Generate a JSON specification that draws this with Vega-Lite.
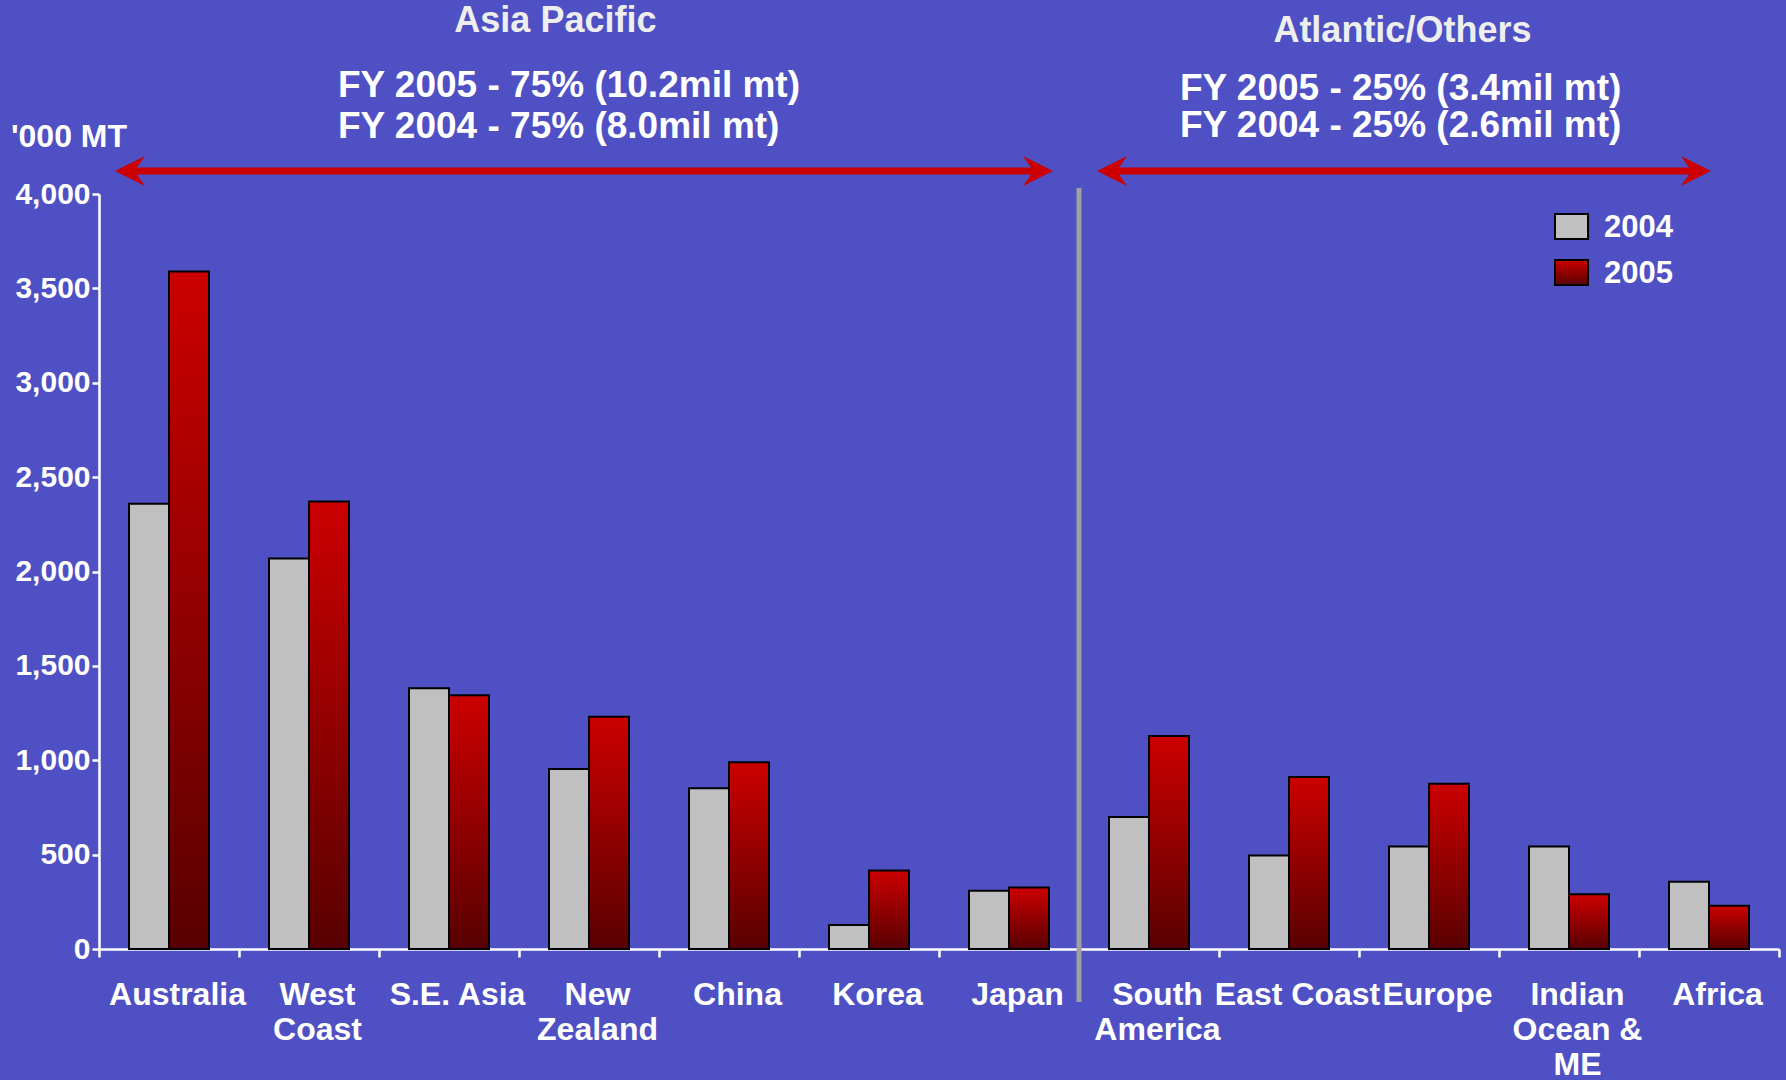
{
  "$schema": "https://vega.github.io/schema/vega-lite/v6.json",
  "width": 1680,
  "height": 755,
  "autosize": {"type": "none"},
  "padding": {"left": 99, "top": 194, "right": 7, "bottom": 131},
  "background": "#4F50C3",
  "config": {
    "view": {"stroke": null},
    "font": "Liberation Sans",
    "text": {"lineBreak": "\n"}
  },
  "datasets": {
    "shipments": [
      {"region": "Australia", "year": "2004", "kmt": 2359},
      {"region": "Australia", "year": "2005", "kmt": 3590},
      {"region": "West Coast", "year": "2004", "kmt": 2069},
      {"region": "West Coast", "year": "2005", "kmt": 2371},
      {"region": "S.E. Asia", "year": "2004", "kmt": 1382},
      {"region": "S.E. Asia", "year": "2005", "kmt": 1345},
      {"region": "New Zealand", "year": "2004", "kmt": 953},
      {"region": "New Zealand", "year": "2005", "kmt": 1231},
      {"region": "China", "year": "2004", "kmt": 851},
      {"region": "China", "year": "2005", "kmt": 989},
      {"region": "Korea", "year": "2004", "kmt": 127},
      {"region": "Korea", "year": "2005", "kmt": 416},
      {"region": "Japan", "year": "2004", "kmt": 308},
      {"region": "Japan", "year": "2005", "kmt": 326},
      {"region": "South America", "year": "2004", "kmt": 700},
      {"region": "South America", "year": "2005", "kmt": 1128},
      {"region": "East Coast", "year": "2004", "kmt": 495},
      {"region": "East Coast", "year": "2005", "kmt": 911},
      {"region": "Europe", "year": "2004", "kmt": 543},
      {"region": "Europe", "year": "2005", "kmt": 875},
      {"region": "Indian Ocean & ME", "year": "2004", "kmt": 543},
      {"region": "Indian Ocean & ME", "year": "2005", "kmt": 290},
      {"region": "Africa", "year": "2004", "kmt": 356},
      {"region": "Africa", "year": "2005", "kmt": 229}
    ],
    "groups": [
      {"group": "Asia Pacific", "sub": "FY 2005 - 75% (10.2mil mt)\nFY 2004 - 75% (8.0mil mt)"},
      {"group": "Atlantic/Others", "sub": "FY 2005 - 25% (3.4mil mt)\nFY 2004 - 25% (2.6mil mt)"}
    ],
    "legend": [{"year": "2004"}, {"year": "2005"}],
    "unit": [{"unit": "'000 MT"}]
  },
  "layer": [
    {
      "data": {"name": "shipments"},
      "layer": [
        {
          "transform": [{"filter": "datum.year == '2004'"}],
          "mark": {"type": "bar", "stroke": "black", "strokeWidth": 2, "color": "#C0C0C0", "opacity": 1},
          "encoding": {}
        },
        {
          "transform": [{"filter": "datum.year == '2005'"}],
          "mark": {
            "type": "bar", "stroke": "black", "strokeWidth": 2, "opacity": 1,
            "color": {"gradient": "linear", "x1": 0, "y1": 0, "x2": 0, "y2": 1, "stops": [{"offset": 0, "color": "#CC0000"}, {"offset": 1, "color": "#580000"}]}
          },
          "encoding": {}
        }
      ],
      "encoding": {
        "x": {
          "field": "region", "type": "nominal", "sort": null,
          "scale": {"paddingInner": 0, "paddingOuter": 0},
          "axis": {
            "title": null, "labelAngle": 0, "tickBand": "extent",
            "labelExpr": "datum.label == 'West Coast' ? ['West','Coast'] : datum.label == 'New Zealand' ? ['New','Zealand'] : datum.label == 'South America' ? ['South','America'] : datum.label == 'Indian Ocean & ME' ? ['Indian','Ocean &','ME'] : datum.label",
            "labelFont": "Liberation Sans", "labelFontWeight": "bold", "labelFontSize": 32,
            "labelColor": "white", "labelLineHeight": 35, "labelBaseline": "top",
            "labelPadding": 22, "labelOffset": 8, "labelOverlap": false, "labelBound": false, "labelFlush": false,
            "tickColor": "white", "tickSize": 8, "tickWidth": 2.5,
            "domainColor": "white", "domainWidth": 2.5, "grid": false
          }
        },
        "xOffset": {"field": "year", "type": "nominal", "scale": {"domain": ["2004", "2005"], "paddingInner": 0, "paddingOuter": 0.75}},
        "y": {
          "field": "kmt", "type": "quantitative",
          "scale": {"domain": [0, 4000], "nice": false},
          "axis": {
            "title": null, "values": [0, 500, 1000, 1500, 2000, 2500, 3000, 3500, 4000],
            "labelExpr": "format(datum.value, ',')",
            "labelFont": "Liberation Sans", "labelFontWeight": "bold",
            "labelFontSize": 30, "labelColor": "white", "labelPadding": 2,
            "tickColor": "white", "tickSize": 7, "tickWidth": 2.5,
            "domainColor": "white", "domainWidth": 2.5, "grid": false
          }
        }
      }
    },
    {
      "layer": [
        {
          "data": {"values": [{"part": "divider"}]},
          "mark": {"type": "rule", "color": "#A0A0A0", "strokeWidth": 5},
          "encoding": {
            "x": {"datum": 7.0, "type": "quantitative", "scale": {"domain": [0, 12]}, "axis": null},
            "y": {"datum": 4032, "type": "quantitative"},
            "y2": {"datum": -281}
          }
        },
        {
          "data": {"values": [{"part": "asia arrow"}]},
          "mark": {"type": "rule", "color": "#CC0000", "strokeWidth": 7},
          "encoding": {
            "x": {"datum": 0.21, "type": "quantitative", "scale": {"domain": [0, 12]}, "axis": null},
            "x2": {"datum": 6.72},
            "y": {"datum": 4122, "type": "quantitative"}
          }
        },
        {
          "data": {"values": [{"part": "atlantic arrow"}]},
          "mark": {"type": "rule", "color": "#CC0000", "strokeWidth": 7},
          "encoding": {
            "x": {"datum": 7.23, "type": "quantitative", "scale": {"domain": [0, 12]}, "axis": null},
            "x2": {"datum": 11.42},
            "y": {"datum": 4122, "type": "quantitative"}
          }
        },
        {
          "data": {"values": [{"part": "asia left head"}]},
          "mark": {"type": "point", "shape": "M 0 0 L 2 -1 L 1.3 0 L 2 1 Z", "size": 900, "filled": true, "color": "#CC0000", "opacity": 1},
          "encoding": {
            "x": {"datum": 0.114, "type": "quantitative", "scale": {"domain": [0, 12]}, "axis": null},
            "y": {"datum": 4122, "type": "quantitative"}
          }
        },
        {
          "data": {"values": [{"part": "asia right head"}]},
          "mark": {"type": "point", "shape": "M 0 0 L -2 -1 L -1.3 0 L -2 1 Z", "size": 900, "filled": true, "color": "#CC0000", "opacity": 1},
          "encoding": {
            "x": {"datum": 6.814, "type": "quantitative", "scale": {"domain": [0, 12]}, "axis": null},
            "y": {"datum": 4122, "type": "quantitative"}
          }
        },
        {
          "data": {"values": [{"part": "atlantic left head"}]},
          "mark": {"type": "point", "shape": "M 0 0 L 2 -1 L 1.3 0 L 2 1 Z", "size": 900, "filled": true, "color": "#CC0000", "opacity": 1},
          "encoding": {
            "x": {"datum": 7.129, "type": "quantitative", "scale": {"domain": [0, 12]}, "axis": null},
            "y": {"datum": 4122, "type": "quantitative"}
          }
        },
        {
          "data": {"values": [{"part": "atlantic right head"}]},
          "mark": {"type": "point", "shape": "M 0 0 L -2 -1 L -1.3 0 L -2 1 Z", "size": 900, "filled": true, "color": "#CC0000", "opacity": 1},
          "encoding": {
            "x": {"datum": 11.514, "type": "quantitative", "scale": {"domain": [0, 12]}, "axis": null},
            "y": {"datum": 4122, "type": "quantitative"}
          }
        },
        {
          "data": {"name": "legend"},
          "transform": [{"filter": "datum.year == '2004'"}],
          "mark": {"type": "rect", "color": "#C0C0C0", "stroke": "black", "strokeWidth": 2, "opacity": 1},
          "encoding": {
            "x": {"datum": 10.4, "type": "quantitative", "scale": {"domain": [0, 12]}, "axis": null},
            "x2": {"datum": 10.636},
            "y": {"datum": 3894, "type": "quantitative"},
            "y2": {"datum": 3762}
          }
        },
        {
          "data": {"name": "legend"},
          "transform": [{"filter": "datum.year == '2005'"}],
          "mark": {
            "type": "rect", "stroke": "black", "strokeWidth": 2, "opacity": 1,
            "color": {"gradient": "linear", "x1": 0, "y1": 0, "x2": 0, "y2": 1, "stops": [{"offset": 0, "color": "#CC0000"}, {"offset": 1, "color": "#580000"}]}
          },
          "encoding": {
            "x": {"datum": 10.4, "type": "quantitative", "scale": {"domain": [0, 12]}, "axis": null},
            "x2": {"datum": 10.636},
            "y": {"datum": 3650, "type": "quantitative"},
            "y2": {"datum": 3518}
          }
        },
        {
          "data": {"name": "legend"},
          "transform": [{"filter": "datum.year == '2004'"}],
          "mark": {"type": "text", "font": "Liberation Sans", "fontWeight": "bold", "fontSize": 31, "color": "white", "align": "left", "baseline": "alphabetic"},
          "encoding": {
            "text": {"field": "year"},
            "x": {"datum": 10.75, "type": "quantitative", "scale": {"domain": [0, 12]}, "axis": null},
            "y": {"datum": 3772, "type": "quantitative"}
          }
        },
        {
          "data": {"name": "legend"},
          "transform": [{"filter": "datum.year == '2005'"}],
          "mark": {"type": "text", "font": "Liberation Sans", "fontWeight": "bold", "fontSize": 31, "color": "white", "align": "left", "baseline": "alphabetic"},
          "encoding": {
            "text": {"field": "year"},
            "x": {"datum": 10.75, "type": "quantitative", "scale": {"domain": [0, 12]}, "axis": null},
            "y": {"datum": 3528, "type": "quantitative"}
          }
        },
        {
          "data": {"name": "groups"},
          "transform": [{"filter": "datum.group == 'Asia Pacific'"}],
          "mark": {"type": "text", "font": "Liberation Sans", "fontWeight": "bold", "fontSize": 36, "color": "#EEEEEE", "align": "center", "baseline": "alphabetic"},
          "encoding": {
            "text": {"field": "group"},
            "x": {"datum": 3.26, "type": "quantitative", "scale": {"domain": [0, 12]}, "axis": null},
            "y": {"datum": 4858, "type": "quantitative"}
          }
        },
        {
          "data": {"name": "groups"},
          "transform": [{"filter": "datum.group == 'Atlantic/Others'"}],
          "mark": {"type": "text", "font": "Liberation Sans", "fontWeight": "bold", "fontSize": 36, "color": "#EEEEEE", "align": "center", "baseline": "alphabetic"},
          "encoding": {
            "text": {"field": "group"},
            "x": {"datum": 9.31, "type": "quantitative", "scale": {"domain": [0, 12]}, "axis": null},
            "y": {"datum": 4805, "type": "quantitative"}
          }
        },
        {
          "data": {"name": "groups"},
          "transform": [{"filter": "datum.group == 'Asia Pacific'"}],
          "mark": {"type": "text", "font": "Liberation Sans", "fontWeight": "bold", "fontSize": 37, "lineHeight": 41, "color": "white", "align": "left", "baseline": "alphabetic"},
          "encoding": {
            "text": {"field": "sub"},
            "x": {"datum": 1.707, "type": "quantitative", "scale": {"domain": [0, 12]}, "axis": null},
            "y": {"datum": 4514, "type": "quantitative"}
          }
        },
        {
          "data": {"name": "groups"},
          "transform": [{"filter": "datum.group == 'Atlantic/Others'"}],
          "mark": {"type": "text", "font": "Liberation Sans", "fontWeight": "bold", "fontSize": 37, "lineHeight": 37, "color": "white", "align": "left", "baseline": "alphabetic"},
          "encoding": {
            "text": {"field": "sub"},
            "x": {"datum": 7.721, "type": "quantitative", "scale": {"domain": [0, 12]}, "axis": null},
            "y": {"datum": 4498, "type": "quantitative"}
          }
        },
        {
          "data": {"name": "unit"},
          "mark": {"type": "text", "font": "Liberation Sans", "fontWeight": "bold", "fontSize": 32, "color": "white", "align": "left", "baseline": "alphabetic"},
          "encoding": {
            "text": {"field": "unit"},
            "x": {"datum": -0.629, "type": "quantitative", "scale": {"domain": [0, 12]}, "axis": null},
            "y": {"datum": 4249, "type": "quantitative"}
          }
        }
      ]
    }
  ],
  "resolve": {"scale": {"x": "independent"}}
}
